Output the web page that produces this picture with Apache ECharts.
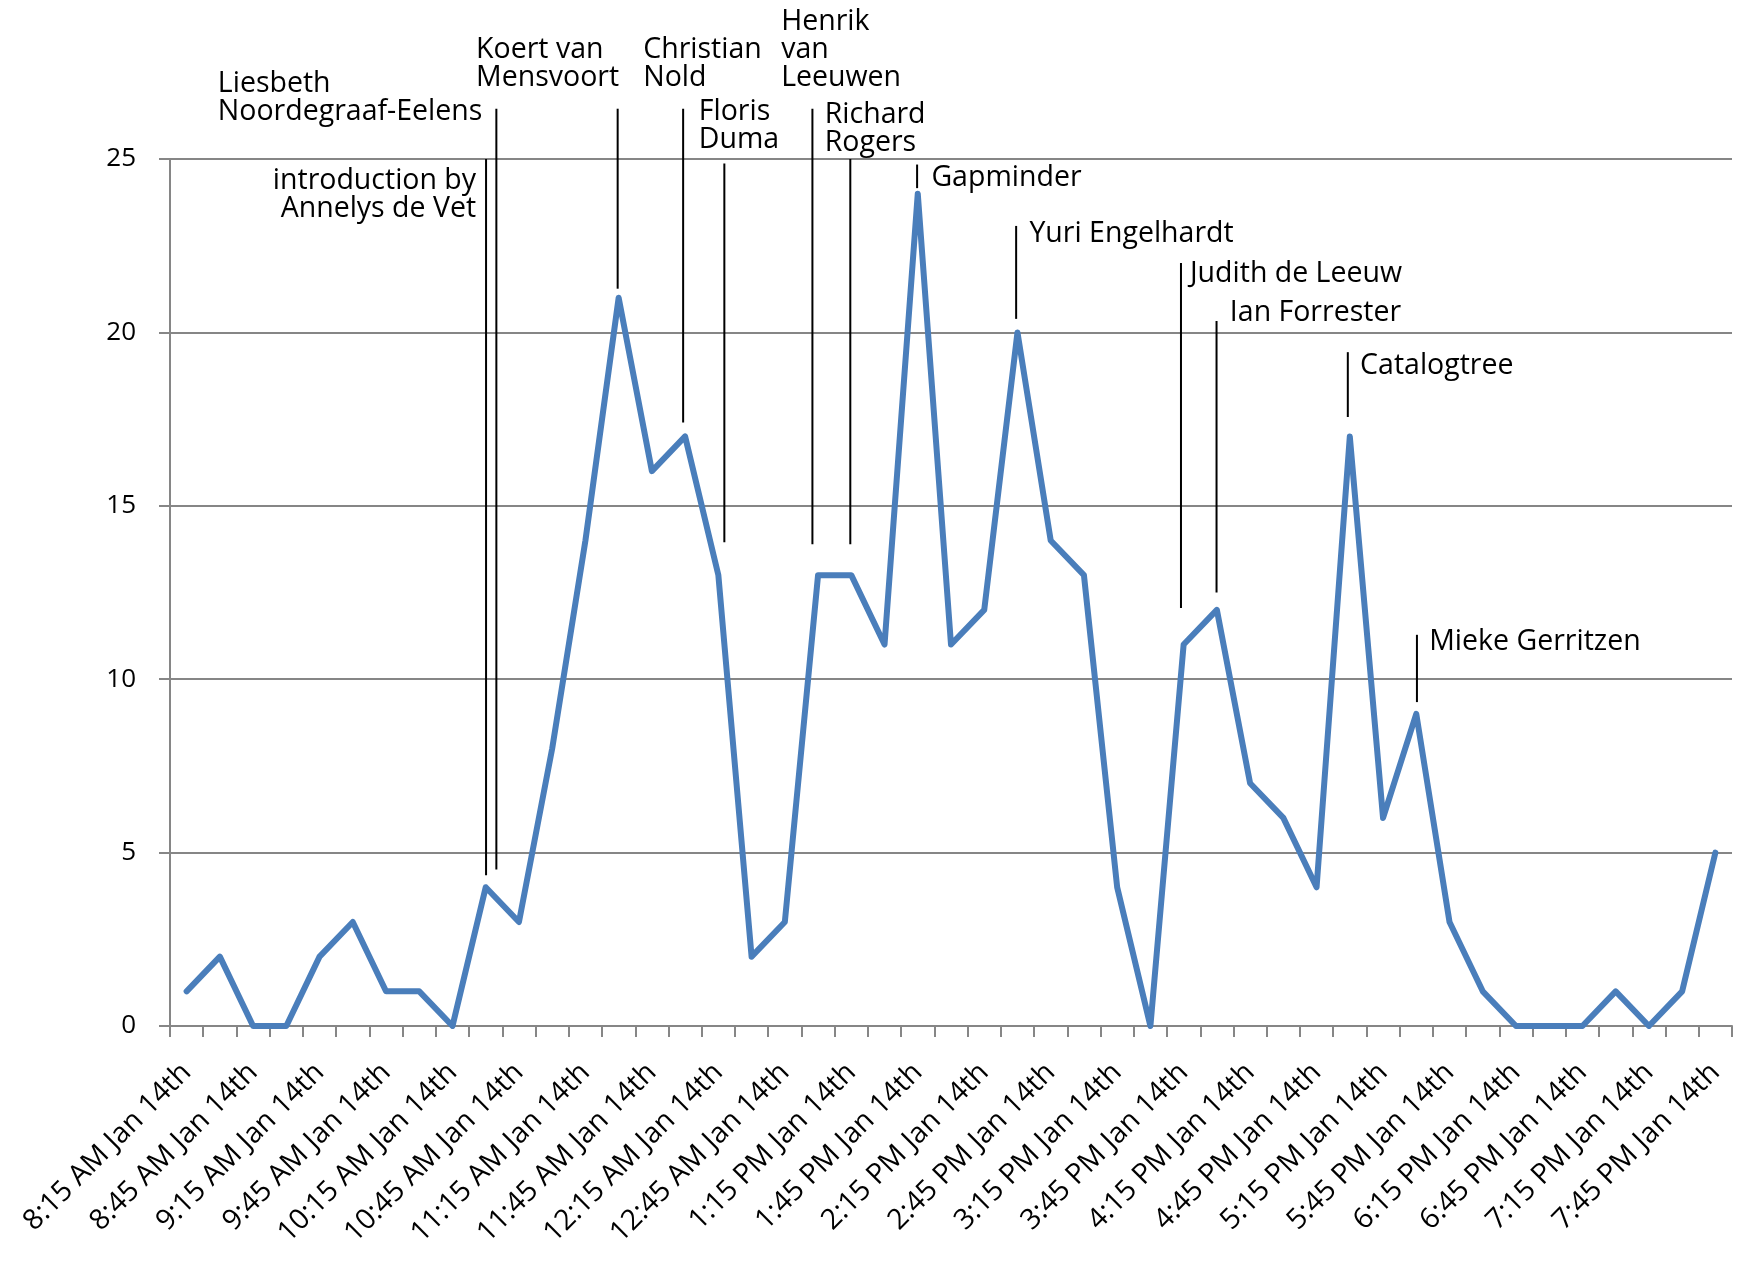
<!DOCTYPE html>
<html>
<head>
<meta charset="utf-8">
<script src="https://cdn.jsdelivr.net/npm/echarts@6/dist/echarts.min.js"></script>
<style>
html,body{margin:0;padding:0;background:#fff;}
#chart{width:1746px;height:1264px;}
</style>
</head>
<body>
<div id="chart"></div>
<script>
const categories = [
  '8:15 AM Jan 14th','8:30 AM Jan 14th','8:45 AM Jan 14th','9:00 AM Jan 14th','9:15 AM Jan 14th','9:30 AM Jan 14th',
  '9:45 AM Jan 14th','10:00 AM Jan 14th','10:15 AM Jan 14th','10:30 AM Jan 14th','10:45 AM Jan 14th','11:00 AM Jan 14th',
  '11:15 AM Jan 14th','11:30 AM Jan 14th','11:45 AM Jan 14th','12:00 AM Jan 14th','12:15 AM Jan 14th','12:30 AM Jan 14th',
  '12:45 AM Jan 14th','1:00 PM Jan 14th','1:15 PM Jan 14th','1:30 PM Jan 14th','1:45 PM Jan 14th','2:00 PM Jan 14th',
  '2:15 PM Jan 14th','2:30 PM Jan 14th','2:45 PM Jan 14th','3:00 PM Jan 14th','3:15 PM Jan 14th','3:30 PM Jan 14th',
  '3:45 PM Jan 14th','4:00 PM Jan 14th','4:15 PM Jan 14th','4:30 PM Jan 14th','4:45 PM Jan 14th','5:00 PM Jan 14th',
  '5:15 PM Jan 14th','5:30 PM Jan 14th','5:45 PM Jan 14th','6:00 PM Jan 14th','6:15 PM Jan 14th','6:30 PM Jan 14th',
  '6:45 PM Jan 14th','7:00 PM Jan 14th','7:15 PM Jan 14th','7:30 PM Jan 14th','7:45 PM Jan 14th'
];
const counts = [1,2,0,0,2,3,1,1,0,4,3,8,14,21,16,17,13,2,3,13,13,11,24,11,12,20,14,13,4,0,11,12,7,6,4,17,6,9,3,1,0,0,0,1,0,1,5];

const yTicks = [0,5,10,15,20,25];

// annotations (anchored in data units: category index / count value)
const annText = [
  'introduction by\nAnnelys de Vet',
  'Liesbeth\nNoordegraaf-Eelens',
  'Koert van\nMensvoort',
  'Christian\nNold',
  'Floris\nDuma',
  'Henrik\nvan\nLeeuwen',
  'Richard\nRogers',
  'Gapminder',
  'Yuri Engelhardt',
  'Judith de Leeuw',
  'Ian Forrester',
  'Catalogtree',
  'Mieke Gerritzen'
];
const annLineX      = [9.01, 9.32, 12.97, 14.94, 16.18, 18.83, 19.97, 21.98, 24.96, 29.92, 30.99, 34.94, 37.02];
const annLineTop    = [25.0, 26.45, 26.45, 26.45, 24.87, 26.45, 25.0, 24.84, 23.07, 22.0, 20.33, 19.43, 11.28];
const annLineBottom = [4.35, 4.51, 21.26, 17.40, 13.95, 13.89, 13.89, 24.16, 20.39, 12.05, 12.5, 17.56, 9.34];
const annTextX      = [8.71, 0.94, 8.71, 13.74, 15.41, 17.89, 19.2, 22.41, 25.36, 30.19, 31.39, 35.31, 37.39];
const annTextY      = [23.97, 26.76, 27.75, 27.75, 25.95, 28.16, 25.87, 24.45, 22.84, 21.68, 20.55, 19.04, 11.08];
const annAlign      = ['right','left','left','left','left','left','left','left','left','left','left','left','left'];

const annData = annText.map((t, i) => [annLineX[i], annLineTop[i], annLineBottom[i], annTextX[i], annTextY[i]]);

const chart = echarts.init(document.getElementById('chart'), null, {renderer: 'canvas'});
const FONT = '"Open Sans", "Noto Sans", sans-serif';

chart.setOption({
  animation: false,
  backgroundColor: '#ffffff',
  grid: {left: 170, right: 14, top: 159, bottom: 238, containLabel: false},
  xAxis: [{
    type: 'category',
    data: categories,
    boundaryGap: true,
    axisLine: {show: true, lineStyle: {color: '#868686', width: 2}},
    axisTick: {show: true, interval: 0, length: 11, lineStyle: {color: '#868686', width: 2}},
    axisLabel: {interval: 1, rotate: 45, margin: 42, color: '#000', fontSize: 28.5, fontFamily: FONT},
    splitLine: {show: false}
  }, {
    type: 'value',
    min: -0.5,
    max: 46.5,
    show: false
  }],
  yAxis: {
    type: 'value',
    min: yTicks[0],
    max: yTicks[yTicks.length - 1],
    interval: 5,
    axisLine: {show: true, onZero: false, lineStyle: {color: '#868686', width: 2}},
    axisTick: {show: true, length: 11, lineStyle: {color: '#868686', width: 2}},
    axisLabel: {color: '#000', fontSize: 26, fontFamily: FONT, margin: 34},
    splitLine: {show: true, lineStyle: {color: '#868686', width: 2}}
  },
  series: [{
    type: 'line',
    data: counts,
    xAxisIndex: 0,
    symbol: 'none',
    smooth: false,
    lineStyle: {color: '#4a7ebb', width: 6, join: 'round', cap: 'round'},
    z: 3
  }, {
    type: 'custom',
    xAxisIndex: 1,
    yAxisIndex: 0,
    clip: false,
    silent: true,
    z: 4,
    data: annData,
    renderItem: function (params, api) {
      const i = params.dataIndex;
      const p0 = api.coord([api.value(0), api.value(1)]);
      const p1 = api.coord([api.value(0), api.value(2)]);
      const t = api.coord([api.value(3), api.value(4)]);
      return {
        type: 'group',
        children: [{
          type: 'line',
          shape: {x1: p0[0], y1: p0[1], x2: p1[0], y2: p1[1]},
          style: {stroke: '#000', lineWidth: 2}
        }, {
          type: 'text',
          x: t[0],
          y: t[1],
          style: {
            text: annText[i],
            fill: '#000',
            fontSize: 28.5,
            fontFamily: FONT,
            lineHeight: 28,
            align: annAlign[i],
            verticalAlign: 'middle'
          }
        }]
      };
    }
  }]
});
</script>
</body>
</html>
